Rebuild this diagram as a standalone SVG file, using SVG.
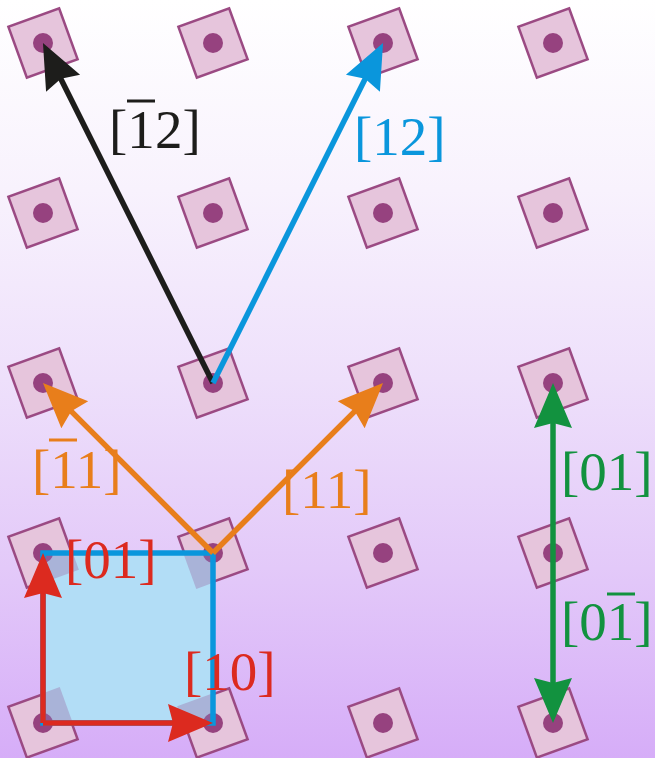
<svg xmlns="http://www.w3.org/2000/svg" xmlns:xlink="http://www.w3.org/1999/xlink" width="655" height="758" viewBox="0 0 655 758">
  <style>
    .sq { fill: #e6c5dc; stroke: #9b4a83; stroke-width: 2.5; }
    .dot { fill: #96427f; }
    .ov { fill: #a9b3d8; }
    .ovdot { fill: #8f5b98; }
    .lbl { font-family: "Liberation Serif", "Times New Roman", serif; font-size: 55px; }
    .conn { fill: none; stroke-width: 5.5; stroke-linecap: butt; }
    .bar { stroke-width: 3; }
  </style>
  <defs>
    <linearGradient id="bg" x1="0" y1="0" x2="0" y2="1">
      <stop offset="0" stop-color="#ffffff"/>
      <stop offset="0.25" stop-color="#f8f2fd"/>
      <stop offset="0.5" stop-color="#eee0fb"/>
      <stop offset="0.75" stop-color="#e3c9f9"/>
      <stop offset="1" stop-color="#d6adf8"/>
    </linearGradient>
    <g id="site">
      <rect class="sq" x="-27" y="-27" width="54" height="54" transform="rotate(-20)"/>
      <circle class="dot" r="10"/>
    </g>
    <g id="siteov">
      <rect class="ov" x="-28" y="-28" width="56" height="56" transform="rotate(-20)"/>
      <circle class="ovdot" r="10"/>
    </g>
    <clipPath id="cellclip">
      <rect x="43" y="553" width="170" height="170"/>
    </clipPath>
    <marker id="ak" viewBox="-47 -21 49 42" markerWidth="49" markerHeight="42" refX="-20" refY="0" orient="auto" markerUnits="userSpaceOnUse">
      <path d="M0,0 L-45,-19 L-40,0 L-45,19 Z" fill="#1d1d1b"/>
    </marker>
    <marker id="ab" viewBox="-47 -21 49 42" markerWidth="49" markerHeight="42" refX="-20" refY="0" orient="auto" markerUnits="userSpaceOnUse">
      <path d="M0,0 L-45,-19 L-40,0 L-45,19 Z" fill="#0a96dc"/>
    </marker>
    <marker id="ao" viewBox="-47 -21 49 42" markerWidth="49" markerHeight="42" refX="-20" refY="0" orient="auto" markerUnits="userSpaceOnUse">
      <path d="M0,0 L-45,-19 L-40,0 L-45,19 Z" fill="#e87e1b"/>
    </marker>
    <marker id="ar" viewBox="-47 -21 49 42" markerWidth="49" markerHeight="42" refX="-20" refY="0" orient="auto" markerUnits="userSpaceOnUse">
      <path d="M0,0 L-45,-19 L-40,0 L-45,19 Z" fill="#dc2a1f"/>
    </marker>
    <marker id="ag" viewBox="-47 -21 49 42" markerWidth="49" markerHeight="42" refX="-20" refY="0" orient="auto-start-reverse" markerUnits="userSpaceOnUse">
      <path d="M0,0 L-45,-19 L-40,0 L-45,19 Z" fill="#12923f"/>
    </marker>
  </defs>

  <rect x="0" y="0" width="655" height="758" fill="url(#bg)"/>

  <g id="lattice">
    <g id="site-0-0"><use href="#site" x="43" y="43"/></g>
    <g id="site-1-0"><use href="#site" x="213" y="43"/></g>
    <g id="site-2-0"><use href="#site" x="383" y="43"/></g>
    <g id="site-3-0"><use href="#site" x="553" y="43"/></g>
    <g id="site-0-1"><use href="#site" x="43" y="213"/></g>
    <g id="site-1-1"><use href="#site" x="213" y="213"/></g>
    <g id="site-2-1"><use href="#site" x="383" y="213"/></g>
    <g id="site-3-1"><use href="#site" x="553" y="213"/></g>
    <g id="site-0-2"><use href="#site" x="43" y="383"/></g>
    <g id="site-1-2"><use href="#site" x="213" y="383"/></g>
    <g id="site-2-2"><use href="#site" x="383" y="383"/></g>
    <g id="site-3-2"><use href="#site" x="553" y="383"/></g>
    <g id="site-0-3"><use href="#site" x="43" y="553"/></g>
    <g id="site-1-3"><use href="#site" x="213" y="553"/></g>
    <g id="site-2-3"><use href="#site" x="383" y="553"/></g>
    <g id="site-3-3"><use href="#site" x="553" y="553"/></g>
    <g id="site-0-4"><use href="#site" x="43" y="723"/></g>
    <g id="site-1-4"><use href="#site" x="213" y="723"/></g>
    <g id="site-2-4"><use href="#site" x="383" y="723"/></g>
    <g id="site-3-4"><use href="#site" x="553" y="723"/></g>
  </g>

  <g id="unit-cell">
    <rect x="43" y="553" width="170" height="170" fill="#b2ddf6"/>
    <g clip-path="url(#cellclip)">
      <use href="#siteov" x="43" y="553"/>
      <use href="#siteov" x="213" y="553"/>
      <use href="#siteov" x="43" y="723"/>
      <use href="#siteov" x="213" y="723"/>
    </g>
    <rect x="43" y="553" width="170" height="170" fill="none" stroke="#0a96dc" stroke-width="5.5"/>
  </g>

  <g id="connectors">
    <line class="conn" x1="213" y1="383" x2="51.9" y2="60.9" stroke="#1d1d1b" marker-end="url(#ak)"/>
    <line class="conn" x1="213" y1="383" x2="374.1" y2="60.9" stroke="#0a96dc" marker-end="url(#ab)"/>
    <line class="conn" x1="213" y1="553" x2="57.1" y2="397.1" stroke="#e87e1b" marker-end="url(#ao)"/>
    <line class="conn" x1="213" y1="553" x2="368.9" y2="397.1" stroke="#e87e1b" marker-end="url(#ao)"/>
    <line class="conn" x1="43" y1="723" x2="43" y2="573" stroke="#dc2a1f" marker-end="url(#ar)"/>
    <line class="conn" x1="43" y1="723" x2="193" y2="723" stroke="#dc2a1f" marker-end="url(#ar)"/>
    <line class="conn" x1="553" y1="403" x2="553" y2="703" stroke="#12923f" marker-start="url(#ag)" marker-end="url(#ag)"/>
  </g>

  <g id="labels">
    <text class="lbl" x="109" y="148" fill="#1d1d1b">[1<tspan x="155">2]</tspan></text>
    <line class="bar" x1="127" y1="101" x2="155" y2="101" stroke="#1d1d1b"/>
    <text class="lbl" x="354" y="155" fill="#0a96dc">[12]</text>
    <text class="lbl" x="32" y="488" fill="#e87e1b">[11]</text>
    <line class="bar" x1="49" y1="440" x2="77" y2="440" stroke="#e87e1b"/>
    <text class="lbl" x="282" y="508" fill="#e87e1b">[11]</text>
    <text class="lbl" x="65" y="578" fill="#dc2a1f">[01]</text>
    <text class="lbl" x="184" y="690" fill="#dc2a1f">[10]</text>
    <text class="lbl" x="561" y="490" fill="#12923f">[01]</text>
    <text class="lbl" x="561" y="640" fill="#12923f">[01]</text>
    <line class="bar" x1="607" y1="594" x2="635" y2="594" stroke="#12923f"/>
  </g>
</svg>
